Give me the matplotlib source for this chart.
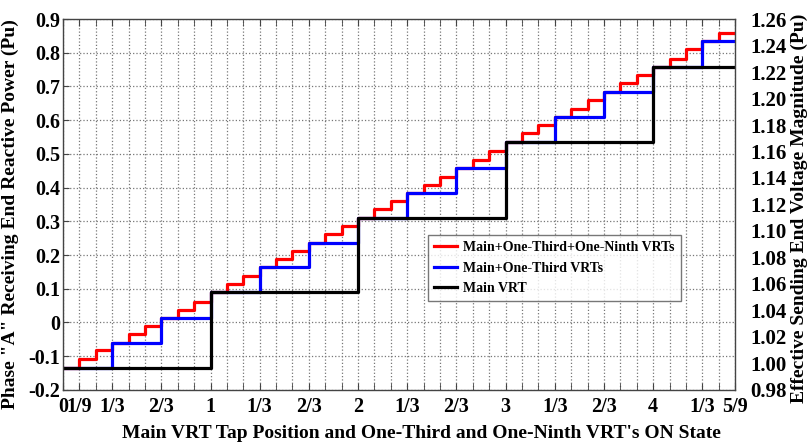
import matplotlib
matplotlib.use("Agg")
import matplotlib.pyplot as plt
import numpy as np

# tap positions are in steps of one-ninth of a main VRT tap
steps_red = list(range(0, 41))
steps_blue = list(range(0, 40, 3))
steps_black = list(range(0, 37, 9))

red = [-0.135, -0.109, -0.082, -0.060, -0.033, -0.010, 0.014, 0.037, 0.061,
       0.089, 0.113, 0.137, 0.163, 0.187, 0.212, 0.237, 0.262, 0.287,
       0.311, 0.336, 0.360, 0.385, 0.408, 0.432, 0.459, 0.482, 0.508,
       0.536, 0.561, 0.585, 0.610, 0.634, 0.659, 0.684, 0.709, 0.734,
       0.758, 0.783, 0.810, 0.835, 0.859]
blue = [-0.135, -0.060, 0.014, 0.089, 0.163, 0.237, 0.311, 0.385, 0.459,
        0.536, 0.610, 0.684, 0.758, 0.835]
black = [-0.135, 0.089, 0.311, 0.536, 0.758]

tick_steps = [0, 1, 3, 6, 9, 12, 15, 18, 21, 24, 27, 30, 33, 36, 39, 41]
tick_labels = ['0', '1/9', '1/3', '2/3', '1', '1/3', '2/3', '2', '1/3', '2/3',
               '3', '1/3', '2/3', '4', '1/3', '5/9']

labels = ['Main+One-Third+One-Ninth VRTs', 'Main+One-Third VRTs', 'Main VRT']

plt.rcParams['font.family'] = 'Liberation Serif'
plt.rcParams['font.weight'] = 'bold'

fig = plt.figure(figsize=(8.07, 4.44), dpi=100)
ax = fig.add_subplot(111)
fig.subplots_adjust(left=0.078, right=0.911, top=0.957, bottom=0.122)

def steps(xs, ys, end=41):
    # extend the last level to the end of the axis
    x = np.array(list(xs) + [end]) / 9.0
    y = np.array(list(ys) + [ys[-1]])
    return x, y

x, y = steps(steps_red, red)
ax.plot(x, y, drawstyle='steps-post', color='red', lw=2.3, label=labels[0])
x, y = steps(steps_blue, blue)
ax.plot(x, y, drawstyle='steps-post', color='blue', lw=2.3, label=labels[1])
x, y = steps(steps_black, black)
ax.plot(x, y, drawstyle='steps-post', color='black', lw=2.3, label=labels[2])

ax.set_xlim(0, 41 / 9.0)
ax.set_ylim(-0.2, 0.9)
ax.set_yticks(np.arange(-0.2, 0.91, 0.1))
ax.set_yticklabels(['-0.2', '-0.1', '0', '0.1', '0.2', '0.3', '0.4', '0.5',
                    '0.6', '0.7', '0.8', '0.9'], fontsize=14.5, fontweight='bold')
ax.set_xticks(np.array(tick_steps) / 9.0)
ax.set_xticklabels(tick_labels, fontsize=14.5, fontweight='bold')
ax.set_xticks(np.arange(0, 42) / 9.0, minor=True)
ax.tick_params(axis='both', which='both', direction='in', color='#444444')
ax.tick_params(axis='x', which='both', length=5, top=True, pad=5)
ax.tick_params(axis='y', length=4, right=True, pad=2)
ax.grid(True, which='minor', axis='x', color='#777777', linestyle=':', lw=0.9)
ax.grid(True, which='major', axis='x', color='#777777', linestyle=':', lw=0.9)
ax.grid(True, which='major', axis='y', color='#777777', linestyle=':', lw=0.9)
ax.set_axisbelow(True)
for s in ax.spines.values():
    s.set_color('#444444')
    s.set_linewidth(1.0)

ax.set_xlabel("Main VRT Tap Position and One-Third and One-Ninth VRT's ON State",
              fontsize=14, fontweight='bold')
ax.xaxis.set_label_coords(0.534, -0.095)
ax.set_ylabel('Phase "A" Receiving End Reactive Power (Pu)', fontsize=14,
              fontweight='bold')
ax.yaxis.set_label_coords(-0.066, 0.474)

ax2 = ax.twinx()
ax2.set_ylim(0.98, 1.26)
ax2.set_yticks(np.arange(0.98, 1.261, 0.02))
ax2.set_yticklabels(['%.2f' % v for v in np.arange(0.98, 1.261, 0.02)],
                    fontsize=15, fontweight='bold')
ax2.tick_params(axis='y', length=0, pad=11)
ax2.set_ylabel('Effective Sending End Voltage Magnitude (Pu)', fontsize=14,
               fontweight='bold')
ax2.yaxis.set_label_coords(1.083, 0.49)
for s in ax2.spines.values():
    s.set_visible(False)

leg = ax.legend(loc='lower left', bbox_to_anchor=(0.543, 0.24, 0.377, 0.178),
                mode='expand', prop={'weight': 'bold', 'size': 10},
                frameon=True, fancybox=False, handlelength=1.7,
                handletextpad=0.4, borderaxespad=0, labelspacing=0.55)
leg.get_frame().set_edgecolor('#555555')
leg.get_frame().set_linewidth(1.0)

fig.savefig('out.png', dpi=100)
